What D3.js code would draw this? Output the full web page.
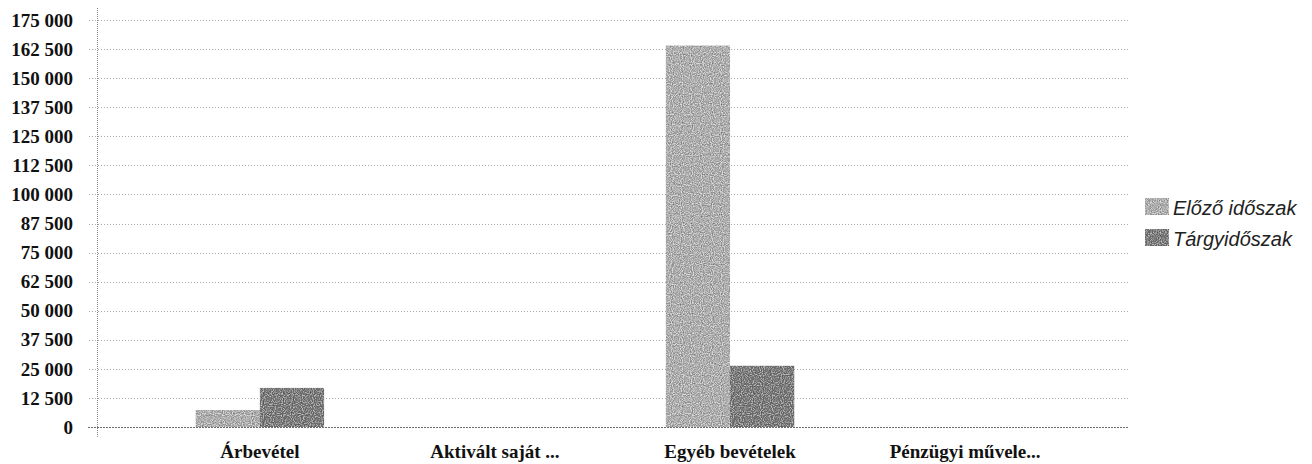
<!DOCTYPE html>
<html>
<head>
<meta charset="utf-8">
<script src="https://cdn.jsdelivr.net/npm/d3@7"></script>
<style>
  html, body { margin: 0; padding: 0; background: #fff; }
  svg { display: block; }
</style>
</head>
<body>
<svg id="chart" width="1312" height="464"></svg>
<script>
const categories = ["Árbevétel", "Aktivált saját ...", "Egyéb bevételek", "Pénzügyi művele..."];
const seriesNames = ["Előző időszak", "Tárgyidőszak"];
const previousValues = [7300, 0, 164000, 0];
const currentValues = [16800, 0, 26300, 0];
const yTicks = [0, 12500, 25000, 37500, 50000, 62500, 75000, 87500, 100000, 112500, 125000, 137500, 150000, 162500, 175000];

(function () {
const seriesValues = [previousValues, currentValues];
const colors = ["#c2c2c2", "#848484"];

const svg = d3.select("#chart");
const plotLeft = 97, plotRight = 1128, plotTop = 20, plotBottom = 427;

const locale = d3.formatLocale({decimal: ",", thousands: " ", grouping: [3], currency: ["", ""]});
const fmt = locale.format(",d");

const x = d3.scaleBand().domain(categories).range([plotLeft, plotRight]).paddingInner(0.454).paddingOuter(0.42);
const xs = d3.scaleBand().domain(seriesNames).range([0, x.bandwidth()]);
const y = d3.scaleLinear().domain([0, 175000]).range([plotBottom, plotTop]);

// grain filter
const defs = svg.append("defs");
const f = defs.append("filter").attr("id", "grain").attr("x", 0).attr("y", 0).attr("width", "100%").attr("height", "100%");
f.append("feTurbulence").attr("type", "fractalNoise").attr("baseFrequency", 0.9).attr("numOctaves", 1).attr("seed", 4).attr("result", "noise");
f.append("feColorMatrix").attr("in", "noise").attr("type", "matrix")
  .attr("values", "0 0 0 0 1  0 0 0 0 1  0 0 0 0 1  0 0 0 -1.4 0.75").attr("result", "light");
f.append("feColorMatrix").attr("in", "noise").attr("type", "matrix")
  .attr("values", "0 0 0 0 0  0 0 0 0 0  0 0 0 0 0  0 0 0 1.4 -0.45").attr("result", "dark");
f.append("feComposite").attr("in", "light").attr("in2", "SourceGraphic").attr("operator", "in").attr("result", "l2");
f.append("feComposite").attr("in", "dark").attr("in2", "SourceGraphic").attr("operator", "in").attr("result", "d2");
const fm = f.append("feMerge");
fm.append("feMergeNode").attr("in", "SourceGraphic");
fm.append("feMergeNode").attr("in", "l2");
fm.append("feMergeNode").attr("in", "d2");

// grid lines (extend 10px left of the axis as tick marks)
const yAxis = d3.axisRight(y).tickValues(yTicks).tickSize(-(plotRight - plotLeft) - 10).tickFormat("");
const ga = svg.append("g").attr("transform", `translate(${plotRight},0)`).call(yAxis);
ga.select(".domain").remove();
ga.selectAll(".tick line")
  .attr("stroke", d => d === 0 ? "#6a6a6a" : "#a8a8a8")
  .attr("stroke-width", 1)
  .attr("stroke-dasharray", d => d === 0 ? "2,1" : "1,2")
  .attr("shape-rendering", "crispEdges");

// y labels
svg.append("g").selectAll("text").data(yTicks).join("text")
  .attr("x", 73).attr("y", d => y(d)).attr("dy", "0.35em")
  .attr("text-anchor", "end")
  .attr("font-family", "'Liberation Serif', 'Times New Roman', serif")
  .attr("font-weight", "bold").attr("font-size", 19).attr("fill", "#111")
  .text(d => fmt(d));

// vertical axis
svg.append("line").attr("x1", plotLeft).attr("x2", plotLeft).attr("y1", 8).attr("y2", 437)
  .attr("stroke", "#888").attr("stroke-dasharray", "1,1").attr("shape-rendering", "crispEdges");

// bars
const groups = svg.append("g").selectAll("g").data(categories).join("g")
  .attr("transform", d => `translate(${x(d)},0)`);
groups.selectAll("rect").data((d, i) => seriesNames.map((s, j) => ({s, v: seriesValues[j][i], j})))
  .join("rect")
  .attr("x", d => xs(d.s)).attr("width", xs.bandwidth())
  .attr("y", d => y(d.v)).attr("height", d => plotBottom - y(d.v))
  .attr("fill", d => colors[d.j])
  .attr("filter", "url(#grain)");

// x labels
svg.append("g").selectAll("text").data(categories).join("text")
  .attr("x", d => x(d) + x.bandwidth() / 2).attr("y", 458)
  .attr("text-anchor", "middle")
  .attr("font-family", "'Liberation Serif', 'Times New Roman', serif")
  .attr("font-weight", "bold").attr("font-size", 19).attr("fill", "#111")
  .text(d => d);

// legend
const lg = svg.append("g").selectAll("g").data(seriesNames).join("g")
  .attr("transform", (d, i) => `translate(1145, ${198 + i * 31})`);
lg.append("rect").attr("width", 24).attr("height", 17).attr("fill", (d, i) => colors[i]).attr("filter", "url(#grain)");
lg.append("text").attr("x", 28).attr("y", 17)
  .attr("font-family", "'Liberation Sans', Arial, sans-serif")
  .attr("font-style", "italic").attr("font-size", 20).attr("fill", "#222")
  .text(d => d);
})();
</script>
</body>
</html>
